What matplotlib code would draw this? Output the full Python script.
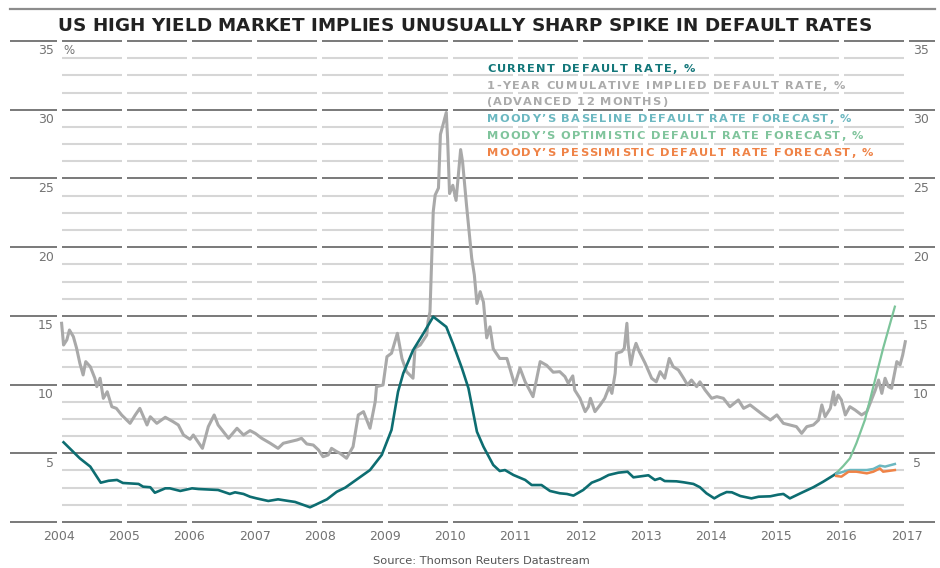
import matplotlib
matplotlib.use("Agg")
import matplotlib.pyplot as plt
from matplotlib.lines import Line2D
from matplotlib.font_manager import FontProperties, findfont
from matplotlib.ft2font import FT2Font
import numpy as np

# ---------------- data ----------------
current_t = [2004.07, 2004.32, 2004.48, 2004.64, 2004.76, 2004.89, 2004.98, 2005.22, 2005.29,
             2005.40, 2005.47, 2005.63, 2005.70, 2005.86, 2006.04, 2006.14, 2006.44, 2006.62,
             2006.70, 2006.83, 2006.93, 2007.03, 2007.21, 2007.36, 2007.52, 2007.62, 2007.75,
             2007.85, 2007.95, 2008.11, 2008.26, 2008.39, 2008.77, 2008.95, 2009.10, 2009.20,
             2009.28, 2009.43, 2009.59, 2009.74, 2009.94, 2010.05, 2010.18, 2010.28, 2010.41,
             2010.51, 2010.66, 2010.76, 2010.84, 2010.97, 2011.15, 2011.25, 2011.40, 2011.53,
             2011.68, 2011.79, 2011.89, 2012.04, 2012.17, 2012.30, 2012.43, 2012.58, 2012.72,
             2012.81, 2013.04, 2013.14, 2013.22, 2013.29, 2013.47, 2013.58, 2013.73, 2013.83,
             2013.93, 2014.05, 2014.14, 2014.24, 2014.32, 2014.45, 2014.62, 2014.73, 2014.91,
             2015.03, 2015.11, 2015.21, 2015.39, 2015.57, 2015.72, 2015.88, 2015.92]
current_v = [5.80, 4.63, 4.03, 2.86, 3.00, 3.06, 2.84, 2.77, 2.57,
             2.53, 2.13, 2.45, 2.45, 2.26, 2.45, 2.40, 2.33, 2.04,
             2.16, 2.04, 1.84, 1.72, 1.53, 1.65, 1.53, 1.46, 1.24,
             1.07, 1.29, 1.65, 2.20, 2.50, 3.78, 4.88, 6.70, 9.48,
             10.82, 12.50, 13.73, 14.94, 14.20, 12.88, 11.19, 9.73, 6.57,
             5.48, 4.15, 3.71, 3.78, 3.42, 3.06, 2.69, 2.69, 2.26,
             2.09, 2.04, 1.92, 2.33, 2.86, 3.10, 3.42, 3.59, 3.66,
             3.25, 3.40, 3.06, 3.18, 2.98, 2.96, 2.89, 2.77, 2.53,
             2.09, 1.72, 1.97, 2.18, 2.16, 1.89, 1.72, 1.84, 1.87,
             1.99, 2.04, 1.72, 2.13, 2.53, 2.93, 3.40, 3.54]

implied_t = [2004.04, 2004.07, 2004.12, 2004.16, 2004.22, 2004.27, 2004.32, 2004.37, 2004.41,
             2004.48, 2004.55, 2004.58, 2004.63, 2004.68, 2004.74, 2004.81, 2004.88, 2004.96,
             2005.09, 2005.17, 2005.24, 2005.35, 2005.40, 2005.50, 2005.63, 2005.75, 2005.83,
             2005.91, 2006.01, 2006.06, 2006.20, 2006.29, 2006.38, 2006.44, 2006.52, 2006.60,
             2006.73, 2006.83, 2006.93, 2007.01, 2007.11, 2007.24, 2007.36, 2007.44, 2007.65,
             2007.72, 2007.80, 2007.90, 2007.98, 2008.05, 2008.13, 2008.18, 2008.26, 2008.31,
             2008.41, 2008.51, 2008.59, 2008.67, 2008.77, 2008.85, 2008.87, 2008.97, 2009.03,
             2009.10, 2009.19, 2009.26, 2009.33, 2009.43, 2009.46, 2009.54, 2009.64, 2009.66,
             2009.69, 2009.74, 2009.77, 2009.82, 2009.85, 2009.90, 2009.94, 2009.96, 2009.99,
             2010.04, 2010.09, 2010.12, 2010.16, 2010.19, 2010.25, 2010.33, 2010.37, 2010.41,
             2010.46, 2010.51, 2010.56, 2010.61, 2010.66, 2010.76, 2010.87, 2010.99, 2011.07,
             2011.15, 2011.27, 2011.38, 2011.48, 2011.58, 2011.68, 2011.76, 2011.81, 2011.88,
             2011.91, 2011.99, 2012.07, 2012.12, 2012.15, 2012.22, 2012.30, 2012.37, 2012.44,
             2012.48, 2012.53, 2012.55, 2012.63, 2012.67, 2012.71, 2012.73, 2012.77, 2012.81,
             2012.85, 2012.90, 2012.99, 2013.09, 2013.16, 2013.22, 2013.29, 2013.36, 2013.42,
             2013.50, 2013.58, 2013.64, 2013.70, 2013.78, 2013.83, 2013.91, 2014.01, 2014.09,
             2014.19, 2014.29, 2014.42, 2014.50, 2014.60, 2014.70, 2014.80, 2014.91, 2015.01,
             2015.11, 2015.21, 2015.31, 2015.39, 2015.47, 2015.57, 2015.65, 2015.70, 2015.75,
             2015.83, 2015.88, 2015.90, 2015.95, 2016.00, 2016.06, 2016.13, 2016.21, 2016.31,
             2016.39, 2016.44, 2016.52, 2016.57, 2016.62, 2016.67, 2016.72, 2016.77, 2016.85,
             2016.90, 2016.94, 2016.98]
implied_v = [14.46, 12.88, 13.25, 13.97, 13.49, 12.64, 11.55, 10.70, 11.67,
             11.30, 10.46, 9.85, 10.46, 9.00, 9.48, 8.39, 8.27, 7.79,
             7.18, 7.79, 8.27, 7.06, 7.66, 7.18, 7.62, 7.30, 7.06,
             6.33, 6.02, 6.33, 5.36, 6.94, 7.79, 7.06, 6.57, 6.09,
             6.82, 6.33, 6.65, 6.45, 6.09, 5.73, 5.36, 5.73, 5.97,
             6.09, 5.68, 5.60, 5.24, 4.75, 4.88, 5.36, 5.12, 5.00,
             4.64, 5.48, 7.79, 8.03, 6.82, 8.76, 9.85, 9.97, 12.03,
             12.28, 13.73, 11.90, 10.94, 10.46, 12.64, 12.88, 13.60, 14.58,
             15.30, 22.60, 23.80, 24.30, 28.20, 29.10, 29.80, 27.90, 23.90,
             24.50, 23.40, 25.00, 27.10, 26.20, 23.07, 19.20, 17.98, 15.90,
             16.76, 16.00, 13.40, 14.20, 12.60, 11.90, 11.90, 9.97, 11.20,
             10.20, 9.12, 11.67, 11.40, 10.90, 10.94, 10.58, 10.10, 10.63,
             9.60, 9.00, 8.03, 8.39, 9.00, 8.03, 8.52, 9.00, 9.85,
             9.36, 10.82, 12.28, 12.40, 12.64, 14.46, 12.88, 11.43, 12.40,
             13.00, 12.40, 11.55, 10.46, 10.20, 10.94, 10.46, 11.90, 11.30,
             11.06, 10.46, 9.97, 10.33, 9.85, 10.20, 9.60, 9.00, 9.12,
             9.00, 8.39, 8.88, 8.27, 8.52, 8.15, 7.79, 7.42, 7.79,
             7.18, 7.06, 6.94, 6.45, 6.94, 7.06, 7.42, 8.52, 7.66,
             8.27, 9.48, 8.52, 9.24, 8.88, 7.79, 8.39, 8.15, 7.79,
             8.03, 8.64, 9.60, 10.33, 9.36, 10.46, 9.85, 9.73, 11.67,
             11.43, 12.15, 13.12]

baseline_t = [2015.92, 2016.03, 2016.13, 2016.39, 2016.49, 2016.59, 2016.67, 2016.82]
baseline_v = [3.50, 3.66, 3.78, 3.78, 3.86, 4.10, 4.03, 4.22]

optimistic_t = [2015.92, 2016.03, 2016.13, 2016.23, 2016.36, 2016.49, 2016.64, 2016.82]
optimistic_v = [3.54, 4.08, 4.63, 5.73, 7.42, 9.85, 12.64, 15.67]

pessimistic_t = [2015.92, 2016.00, 2016.11, 2016.23, 2016.39, 2016.49, 2016.59, 2016.64, 2016.82]
pessimistic_v = [3.35, 3.30, 3.66, 3.66, 3.54, 3.66, 3.90, 3.66, 3.78]

year_labels = [str(y) for y in range(2004, 2018)]
y_labels = ["5", "10", "15", "20", "25", "30", "35"]

title = "US HIGH YIELD MARKET IMPLIES UNUSUALLY SHARP SPIKE IN DEFAULT RATES"
legend_items = [
    ("CURRENT DEFAULT RATE, %", "#13777a"),
    ("1-YEAR CUMULATIVE IMPLIED DEFAULT RATE, %", "#ababab"),
    ("(ADVANCED 12 MONTHS)", "#ababab"),
    ("MOODY\u2019S BASELINE DEFAULT RATE FORECAST, %", "#6cb8c1"),
    ("MOODY\u2019S OPTIMISTIC DEFAULT RATE FORECAST, %", "#80c49c"),
    ("MOODY\u2019S PESSIMISTIC DEFAULT RATE FORECAST, %", "#ef8347"),
]
source = "Source: Thomson Reuters Datastream"

# ---------------- layout ----------------
W, H = 940, 568
DPI = 100
fig = plt.figure(figsize=(W / DPI, H / DPI), dpi=DPI)
fig.patch.set_facecolor("white")

X0_PX, X1_PX = 10, 935
Y_TOP_PX, Y_BOT_PX = 41, 522
YEAR0_PX, YEAR_W = 59, 65.2
PX_PER_UNIT = (Y_BOT_PX - Y_TOP_PX) / 35.0

ax = fig.add_axes([X0_PX / W, 1 - Y_BOT_PX / H, (X1_PX - X0_PX) / W, (Y_BOT_PX - Y_TOP_PX) / H])
xmin = 2004 - (YEAR0_PX - X0_PX) / YEAR_W
xmax = 2004 + (X1_PX - YEAR0_PX) / YEAR_W
ax.set_xlim(xmin, xmax)
ax.set_ylim(0, 35)
ax.axis("off")


def px2x(px):
    return 2004 + (px - YEAR0_PX) / YEAR_W


def char_advances(s, prop, size):
    font = FT2Font(findfont(prop))
    font.set_size(size, DPI)
    adv = []
    for c in s:
        g = font.load_char(ord(c))
        adv.append(g.linearHoriAdvance / 65536.0)
    return adv


def tracked_text(x0, x1, yc, s, size, color, weight="bold"):
    """Letter-spaced text: one text object per glyph, spanning pixel x0..x1."""
    prop = FontProperties(family="DejaVu Sans", size=size, weight=weight)
    adv = char_advances(s, prop, size)
    track = (x1 - x0 - sum(adv)) / max(len(s) - 1, 1)
    em_px = size * DPI / 72.0
    base = yc + 0.365 * em_px
    x = x0
    for c, a in zip(s, adv):
        if c != " ":
            fig.text(x / W, 1 - base / H, c, ha="left", va="baseline", fontproperties=prop,
                     color=color)
        x += a + track


# segmented gridlines
gap = 2.5 / YEAR_W
years = list(range(2004, 2018))
edges = [xmin] + years + [xmax]
for k in range(0, 29):
    lvl = k * 1.25
    major = (k % 4 == 0)
    if major:
        segs = list(zip(edges[:-1], edges[1:]))
        color, lw = "#626262", 1.2
    else:
        segs = list(zip(years[:-1], years[1:]))
        color, lw = "#d6d6d6", 1.5
    for a, b in segs:
        a2 = a if a == xmin else a + gap
        b2 = b if b == xmax else b - gap
        ax.plot([a2, b2], [lvl, lvl], color=color, lw=lw, solid_capstyle="butt",
                zorder=1, clip_on=False)

# series
ax.plot(implied_t, implied_v, color="#a9a9a9", lw=2.2, zorder=3, solid_joinstyle="round")
ax.plot(current_t, current_v, color="#0d6d71", lw=1.9, zorder=4, solid_joinstyle="round")
ax.plot(optimistic_t, optimistic_v, color="#7cc49a", lw=1.6, zorder=5)
ax.plot(baseline_t, baseline_v, color="#6cb8c1", lw=1.8, zorder=5)
ax.plot(pessimistic_t, pessimistic_v, color="#ef8347", lw=1.8, zorder=6)

# axis labels
tick_color = "#737373"
lab_off = 10 / PX_PER_UNIT
for i, lab in enumerate(y_labels):
    v = 5 * (i + 1) - lab_off
    ax.text(px2x(54), v, lab, ha="right", va="center", fontsize=9, color=tick_color, clip_on=False)
    ax.text(px2x(913), v, lab, ha="left", va="center", fontsize=9, color=tick_color, clip_on=False)
ax.text(px2x(63), 35 - lab_off, "%", ha="left", va="center", fontsize=8.5, color=tick_color, clip_on=False)
for i, lab in enumerate(year_labels):
    ax.text(2004 + i, -14 / PX_PER_UNIT, lab, ha="center", va="center", fontsize=9,
            color=tick_color, clip_on=False)

# legend text (letter-spaced, fitted to the reference line lengths)
leg_y = [67.7, 84.5, 101.0, 118.3, 135.0, 152.3]
leg_end = [695, 845, 667, 851, 863, 873]
for (txt, col), ypx, xe in zip(legend_items, leg_y, leg_end):
    tracked_text(487, xe, ypx, txt, 8.2, col)

# title, top rule, source
fig.add_artist(Line2D([X0_PX / W, X1_PX / W], [1 - 9 / H, 1 - 9 / H], color="#8c8c8c", lw=1.6))
tracked_text(57.5, 871.5, 24.7, title, 13.2, "#222222")
fig.text(481 / W, 1 - 561 / H, source, ha="center", va="center", fontsize=8.2, color="#555555")

fig.savefig("out.png", dpi=DPI, facecolor="white")
